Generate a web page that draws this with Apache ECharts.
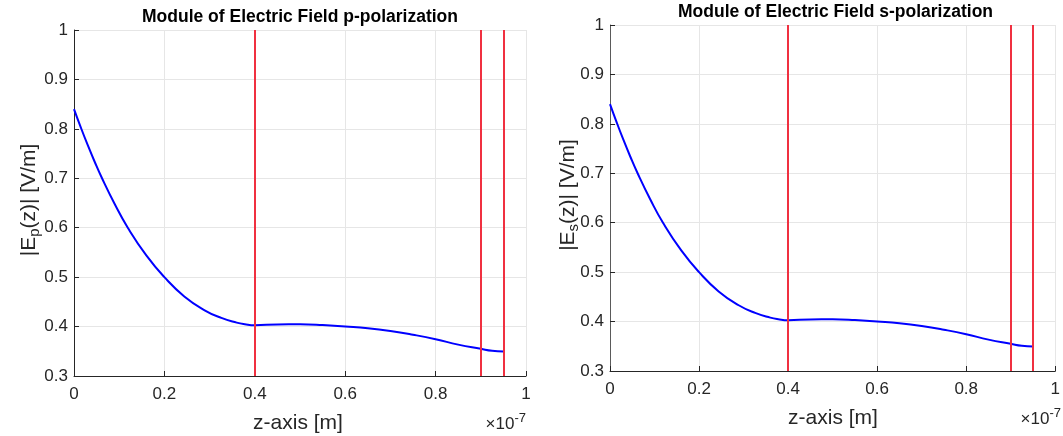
<!DOCTYPE html>
<html>
<head>
<meta charset="utf-8">
<script src="https://cdn.jsdelivr.net/npm/echarts@6/dist/echarts.min.js"></script>
<style>
html,body{margin:0;padding:0;background:#fff;}
#chart{width:1063px;height:436px;}
</style>
</head>
<body>
<div id="chart"></div>
<script>
// z positions in units of 1e-7 m
var zP = [0, 0.015, 0.03, 0.045, 0.062, 0.09, 0.119, 0.16, 0.2, 0.244, 0.289, 0.326, 0.36, 0.378, 0.4, 0.45, 0.5, 0.55, 0.6, 0.65, 0.7, 0.75, 0.8, 0.85, 0.9, 0.925, 0.95];
var eP = [0.840, 0.803, 0.768, 0.735, 0.700, 0.648, 0.600, 0.544, 0.500, 0.461, 0.433, 0.4175, 0.408, 0.4048, 0.4028, 0.4043, 0.4045, 0.403, 0.400, 0.3965, 0.391, 0.3835, 0.3745, 0.3635, 0.355, 0.351, 0.3495];
var zS = [0, 0.015, 0.03, 0.045, 0.062, 0.09, 0.119, 0.16, 0.2, 0.244, 0.289, 0.326, 0.36, 0.378, 0.4, 0.45, 0.5, 0.55, 0.6, 0.65, 0.7, 0.75, 0.8, 0.85, 0.9, 0.925, 0.95];
var eS = [0.840, 0.803, 0.768, 0.735, 0.700, 0.648, 0.600, 0.544, 0.500, 0.461, 0.433, 0.4175, 0.408, 0.4048, 0.4028, 0.4043, 0.4045, 0.403, 0.400, 0.3965, 0.391, 0.3835, 0.3745, 0.3635, 0.355, 0.351, 0.3495];
var interfaces = [0.4, 0.9, 0.95];
var titles = ['Module of Electric Field p-polarization', 'Module of Electric Field s-polarization'];
var xLabelText = 'z-axis [m]';
var ySubs = ['p', 's'];

var FONT = '"Liberation Sans", Arial, Helvetica, sans-serif';
var TXT = '#262626';

function pairs(xs, ys) { return xs.map(function (x, i) { return [x, ys[i]]; }); }

var grids = [
  {left: 74, top: 30, width: 452, height: 346},
  {left: 610, top: 25, width: 451, height: 346}
];

function xAxis(i) {
  return {
    type: 'value', gridIndex: i, min: 0, max: 1, interval: 0.2,
    axisLine: {show: true, onZero: false, lineStyle: {color: TXT, width: 1}},
    axisTick: {show: true, inside: true, length: 5, lineStyle: {color: TXT}},
    axisLabel: {color: TXT, fontSize: 17, fontFamily: FONT, margin: 10, showMaxLabel: true, showMinLabel: true},
    splitLine: {show: true, lineStyle: {color: '#e6e6e6', width: 1}}
  };
}
function yAxis(i) {
  return {
    type: 'value', gridIndex: i, min: 0.3, max: 1, interval: 0.1,
    axisLine: {show: true, lineStyle: {color: i === 0 ? TXT : '#5a5a5a', width: 1}},
    axisTick: {show: true, inside: true, length: 5, lineStyle: {color: TXT}},
    axisLabel: {color: TXT, fontSize: 17, fontFamily: FONT, margin: 6, showMaxLabel: true, showMinLabel: true},
    splitLine: {show: true, lineStyle: {color: '#e6e6e6', width: 1}}
  };
}
function series(i, xs, ys) {
  return {
    type: 'line', xAxisIndex: i, yAxisIndex: i, data: pairs(xs, ys),
    showSymbol: false, smooth: 0.5,
    lineStyle: {color: '#0000ff', width: 2}, itemStyle: {color: '#0000ff'},
    z: 2,
    markLine: {
      silent: true, symbol: 'none', animation: false,
      label: {show: false},
      lineStyle: {color: '#f03040', width: 2, type: 'solid'},
      data: interfaces.map(function (v) { return {xAxis: v}; })
    }
  };
}

var titleCenters = [[300, 17], [835.5, 12]];
var yLabelPos = [[29, 200], [568, 195]];
var xLabelPos = [[298, 423], [833, 418]];
var expPos = [[526, 424], [1061, 419]];

var graphic = [];
for (var i = 0; i < 2; i++) {
  graphic.push({
    type: 'text', x: titleCenters[i][0], y: titleCenters[i][1],
    style: {text: titles[i], font: 'bold 17.5px ' + FONT, fill: '#000', align: 'center', verticalAlign: 'middle'}
  });
  graphic.push({
    type: 'text', x: yLabelPos[i][0], y: yLabelPos[i][1], rotation: Math.PI / 2,
    style: {
      text: '{n||E}{s|' + ySubs[i] + '}{n|(z)| [V/m]}',
      align: 'center', verticalAlign: 'middle', fill: TXT,
      rich: {
        n: {fontSize: 21, fontFamily: FONT, fill: TXT, lineHeight: 26},
        s: {fontSize: 15, fontFamily: FONT, fill: TXT, padding: [12, 0, 0, 0], lineHeight: 16}
      }
    }
  });
  graphic.push({
    type: 'text', x: xLabelPos[i][0], y: xLabelPos[i][1],
    style: {text: xLabelText, font: '21px ' + FONT, fill: TXT, align: 'center', verticalAlign: 'middle'}
  });
  graphic.push({
    type: 'text', x: expPos[i][0], y: expPos[i][1],
    style: {
      text: '{n|\u00d710}{e|-7}',
      align: 'right', verticalAlign: 'middle', fill: TXT,
      rich: {
        n: {fontSize: 17, fontFamily: FONT, fill: TXT, lineHeight: 24},
        e: {fontSize: 13, fontFamily: FONT, fill: TXT, padding: [0, 0, 11, 0], lineHeight: 13}
      }
    }
  });
}

var chart = echarts.init(document.getElementById('chart'), null, {renderer: 'canvas'});
chart.setOption({
  animation: false,
  backgroundColor: '#ffffff',
  grid: grids,
  xAxis: [xAxis(0), xAxis(1)],
  yAxis: [yAxis(0), yAxis(1)],
  series: [series(0, zP, eP), series(1, zS, eS)],
  graphic: graphic
});
</script>
</body>
</html>
